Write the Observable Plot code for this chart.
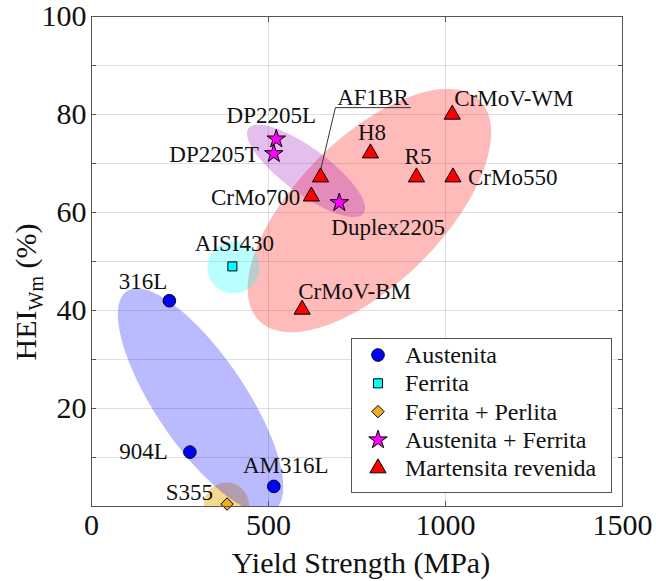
<!DOCTYPE html>
<html><head><meta charset="utf-8">
<script src="https://cdn.jsdelivr.net/npm/d3@7"></script>
<script src="https://cdn.jsdelivr.net/npm/@observablehq/plot@0.6"></script>
<style>
body{margin:0;background:#fff}
#chart{position:relative;width:656px;height:581px}
</style>
</head><body><div id="chart"></div>
<script>
// ---- data ----
const categories = ["Austenita", "Ferrita", "Ferrita + Perlita", "Austenita + Ferrita", "Martensita revenida"];
const catFill = ["#0000ff", "#00ffff", "#EDB120", "#ff00ff", "#ff0000"];
const catSymbol = ["circle", "square", "diamond2", "star", "triangle"];

const materials = ["316L", "904L", "AM316L", "AISI430", "S355", "DP2205L", "DP2205T", "Duplex2205", "CrMo700", "AF1BR", "H8", "R5", "CrMo550", "CrMoV-WM", "CrMoV-BM"];
const materialCategory = [0, 0, 0, 1, 2, 3, 3, 3, 4, 4, 4, 4, 4, 4, 4];
const yieldStrength = [220, 278, 515, 398, 383, 522, 515, 700, 621, 647, 788, 918, 1021, 1019, 595];
const heiWm = [42, 11.1, 4.1, 49, 0.5, 75, 72, 62, 63.3, 67.2, 72.1, 67.2, 67.2, 80, 40.2];

const xTicks = [0, 500, 1000, 1500];
const yTicks = [20, 40, 60, 80, 100];

// region ellipses (data units): centre, major-axis vector, minor-axis vector
const ellipseCategory = [4, 3, 2, 1, 0];
const ellipseCx = [785, 606, 381, 401, 308];
const ellipseCy = [60.4, 68.5, 0.2, 48.8, 21.6];
const ellipseUx = [311.6, 162.4, 64, 73.4, 208.5];
const ellipseUy = [22.5, -8.67, 0, 0, -22.3];
const ellipseVx = [145.8, -38, 0, 0, 105.4];
const ellipseVy = [-10.5, -3.7, 4.7, 5.3, 5.14];
const ellipseFill = ["#ff0000", "#9b0eb9", "#EDB120", "#00ffff", "#0000ff"];
const ellipseOpacity = [0.27, 0.27, 0.5, 0.27, 0.27];

// AF1BR leader annotation (data units)
const leaderX = [647, 689, 901];
const leaderY = [68.6, 81.4, 81.4];

// ---- styling / placement (not data) ----
const catR = [6.3, 5.1, 5.6, 5.8, 6];
const labelPlace = {
  "316L": ["end", -2, -12],
  "904L": ["end", -22, 7],
  "AM316L": ["middle", 12, -13],
  "AISI430": ["middle", 2, -15],
  "S355": ["end", -14, -4],
  "DP2205L": ["middle", -5, -16],
  "DP2205T": ["end", -15, 8],
  "Duplex2205": ["start", -8, 32],
  "CrMo700": ["end", -11, 9],
  "H8": ["middle", 1.5, -13],
  "R5": ["middle", 1.5, -13],
  "CrMo550": ["start", 15, 8],
  "CrMoV-WM": ["start", 2, -9],
  "CrMoV-BM": ["start", -4, -11]
};
const FONT = "'Liberation Serif','Times New Roman',Times,serif";

const points = materials.map((m, i) => ({name: m, cat: materialCategory[i], x: yieldStrength[i], y: heiWm[i]}));

const ellipseMarks = ellipseCategory.map((c, k) => {
  const pts = d3.range(0, 120).map(j => {
    const t = j / 120 * 2 * Math.PI;
    return {
      x: ellipseCx[k] + ellipseUx[k] * Math.cos(t) + ellipseVx[k] * Math.sin(t),
      y: ellipseCy[k] + ellipseUy[k] * Math.cos(t) + ellipseVy[k] * Math.sin(t)
    };
  });
  return Plot.line(pts, {x: "x", y: "y", curve: "linear-closed", fill: ellipseFill[k], fillOpacity: ellipseOpacity[k], stroke: "none", clip: true});
});

const dotMarks = categories.map((c, ci) =>
  Plot.dot(points.filter(p => p.cat === ci), {x: "x", y: "y", symbol: catSymbol[ci], r: catR[ci], fill: catFill[ci], stroke: "#000", strokeWidth: 1})
);

const labelMarks = points.filter(p => labelPlace[p.name]).map(p => {
  const [anchor, dx, dy] = labelPlace[p.name];
  return Plot.text([p], {x: "x", y: "y", text: "name", textAnchor: anchor, lineAnchor: "bottom", dx, dy, fontSize: 23, fill: "#111"});
});

const leader = leaderX.map((x, i) => ({x, y: leaderY[i]}));

const chart = Plot.plot({
  width: 656, height: 581,
  marginLeft: 91, marginRight: 34, marginTop: 16, marginBottom: 75,
  style: {fontFamily: FONT, background: "#fff", color: "#111"},
  x: {domain: [0, 1500]},
  y: {domain: [0, 100]},
  marks: [
    Plot.gridY(d3.range(10, 100, 10), {stroke: "#000", strokeOpacity: 0.12}),
    Plot.gridX([500, 1000], {stroke: "#000", strokeOpacity: 0.12}),
    ...ellipseMarks,
    Plot.line(leader, {x: "x", y: "y", stroke: "#333", strokeWidth: 1}),
    Plot.text(["AF1BR"], {x: d3.mean(leaderX.slice(1)), y: leaderY[2], text: d => d, textAnchor: "middle", lineAnchor: "bottom", dy: -3, fontSize: 23, fill: "#111"}),
    ...dotMarks,
    ...labelMarks,
    Plot.axisX(xTicks, {anchor: "bottom", tickSize: 0, tickPadding: 7, fontSize: 30, tickFormat: d3.format("d"), label: null}),
    Plot.axisY(yTicks, {anchor: "left", tickSize: 0, tickPadding: 5, fontSize: 30, tickFormat: d3.format("d"), label: null}),
    Plot.axisY(d3.range(0, 101, 10), {anchor: "left", tickSize: -5, tickFormat: () => "", label: null, stroke: "#555"}),
    Plot.axisY(d3.range(0, 101, 10), {anchor: "right", tickSize: -5, tickFormat: () => "", label: null, stroke: "#555"}),
    Plot.axisX([500, 1000], {anchor: "bottom", tickSize: -5, tickFormat: () => "", label: null, stroke: "#555"}),
    Plot.axisX([500, 1000], {anchor: "top", tickSize: -5, tickFormat: () => "", label: null, stroke: "#555"}),
    Plot.frame({stroke: "#555", strokeWidth: 1}),
    Plot.text(["Yield Strength (MPa)"], {frameAnchor: "bottom", text: d => d, lineAnchor: "bottom", dy: 66, dx: 4, fontSize: 30, fill: "#111"})
  ]
});
document.getElementById("chart").appendChild(chart);

// y-axis title with subscript
const svg = d3.select(chart);
const yt = svg.append("text")
  .attr("transform", "translate(36,292) rotate(-90)")
  .attr("text-anchor", "middle")
  .attr("font-family", FONT).attr("font-size", 30).attr("fill", "#111");
yt.append("tspan").text("HEI");
yt.append("tspan").attr("font-size", 20).attr("dy", 7).text("Wm");
yt.append("tspan").attr("dy", -7).text(" (%)");

// legend
const symMap = {circle: d3.symbolCircle, square: d3.symbolSquare, diamond2: d3.symbolDiamond2, star: d3.symbolStar, triangle: d3.symbolTriangle};
const lg = svg.append("g").attr("text-anchor", "start");
lg.append("rect").attr("x", 351.5).attr("y", 338.5).attr("width", 260).attr("height", 154)
  .attr("fill", "#fff").attr("stroke", "#555").attr("stroke-width", 1);
categories.forEach((c, i) => {
  const y = 355 + i * 28.3;
  lg.append("path")
    .attr("d", d3.symbol(symMap[catSymbol[i]], Math.PI * catR[i] * catR[i])())
    .attr("transform", `translate(378,${y})`)
    .attr("fill", catFill[i]).attr("stroke", "#000").attr("stroke-width", 1);
  lg.append("text").attr("x", 405).attr("y", y).attr("dy", "0.33em").attr("text-anchor", "start")
    .attr("font-family", FONT).attr("font-size", 24).attr("fill", "#111").text(c);
});
</script>
</body></html>
